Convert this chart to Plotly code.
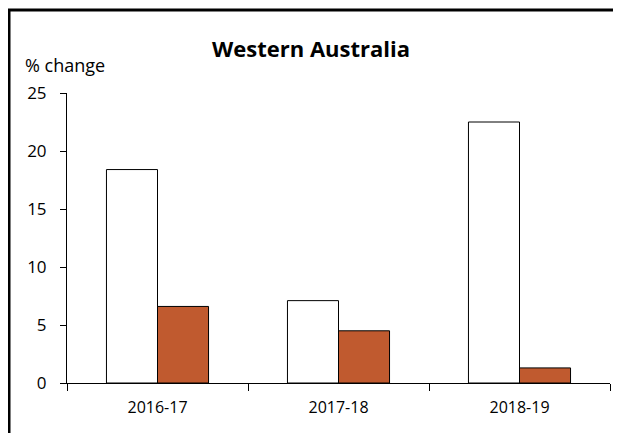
import plotly.graph_objects as go

years = ['2016-17', '2017-18', '2018-19']
series_a = [18.4, 7.1, 22.5]
series_b = [6.6, 4.5, 1.3]
y_ticks = [0, 5, 10, 15, 20, 25]

font_name = "'Open Sans', sans-serif"

# page body has an 8px margin, so the figure is sized/placed to compensate
W, H = 613, 425
L, R, T, B = 59, 11, 85, 50
pw, ph = W - L - R, H - T - B

fig = go.Figure()
fig.add_trace(go.Bar(
    x=years, y=series_a, name='a',
    marker=dict(color='white', line=dict(color='black', width=1)),
))
fig.add_trace(go.Bar(
    x=years, y=series_b, name='b',
    marker=dict(color='#C05A2F', line=dict(color='black', width=1)),
))

fig.update_layout(
    width=W, height=H,
    margin=dict(l=L, r=R, t=T, b=B),
    barmode='group', bargap=0.436, bargroupgap=0,
    showlegend=False,
    plot_bgcolor='white', paper_bgcolor='white',
    font=dict(family=font_name, size=16, color='black'),
    title=dict(text='<b>Western Australia</b>', x=303 / W, xanchor='center',
               y=1 - 41 / H, yanchor='middle', font=dict(size=22, color='black')),
    xaxis=dict(type='category', showline=True, linecolor='black', linewidth=1,
               ticks='outside', tickson='boundaries', ticklen=7, tickcolor='black',
               ticklabelstandoff=10, showgrid=False, tickfont=dict(size=16)),
    yaxis=dict(range=[0, 25], tickvals=y_ticks, showline=True, linecolor='black',
               linewidth=1, ticks='outside', ticklen=6, tickcolor='black',
               ticklabelstandoff=10, showgrid=False, zeroline=False,
               tickfont=dict(size=17)),
)

fig.add_annotation(text='% change', xref='paper', yref='paper',
                   x=(15 - L) / pw, y=(ph + T - 57) / ph, xanchor='left', yanchor='middle',
                   showarrow=False, font=dict(size=18))

# outer frame (right and bottom edges fall outside the picture)
fig.add_shape(type='rect', xref='paper', yref='paper',
              x0=(1 - L) / pw, x1=(640 - L) / pw,
              y0=(T + ph - 460) / ph, y1=(T + ph - 2) / ph,
              line=dict(color='black', width=3), layer='above')

fig.write_html("out.html")
